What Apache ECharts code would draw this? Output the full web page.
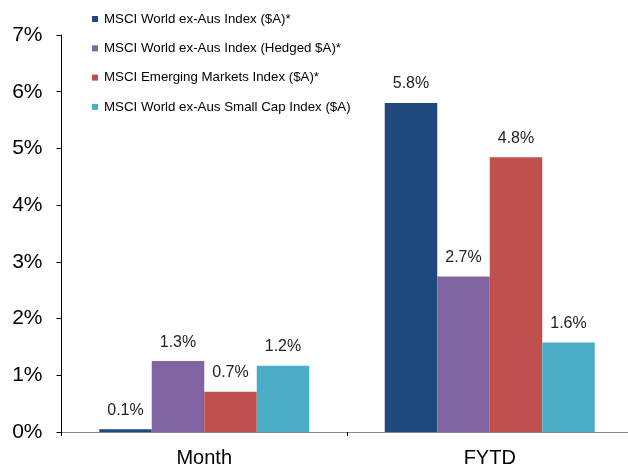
<!DOCTYPE html>
<html><head><meta charset="utf-8">
<script src="https://cdn.jsdelivr.net/npm/echarts@6/dist/echarts.min.js"></script>
<style>html,body{margin:0;padding:0;background:#fff}#c{width:628px;height:468px}</style>
</head><body><div id="c"></div>
<script>
const categories = ['Month', 'FYTD'];
const seriesNames = [
  'MSCI World ex-Aus Index ($A)*',
  'MSCI World ex-Aus Index (Hedged $A)*',
  'MSCI Emerging Markets Index ($A)*',
  'MSCI World ex-Aus Small Cap Index ($A)'
];
const worldExAus = [0.05, 5.80];
const worldHedged = [1.25, 2.74];
const emerging = [0.71, 4.845];
const smallCap = [1.17, 1.58];
const worldExAusLabels = ['0.1%', '5.8%'];
const worldHedgedLabels = ['1.3%', '2.7%'];
const emergingLabels = ['0.7%', '4.8%'];
const smallCapLabels = ['1.2%', '1.6%'];
const yTicks = [0, 1, 2, 3, 4, 5, 6, 7];
const colors = ['#1F497D', '#8064A2', '#C0504D', '#4BACC6'];

const values = [worldExAus, worldHedged, emerging, smallCap];
const labels = [worldExAusLabels, worldHedgedLabels, emergingLabels, smallCapLabels];

const chart = echarts.init(document.getElementById('c'));
chart.setOption({
  animation: false,
  color: colors,
  textStyle: { fontFamily: 'Liberation Sans, Arial, sans-serif' },
  legend: {
    orient: 'vertical', left: 87, top: 7.5,
    icon: 'rect', itemWidth: 6, itemHeight: 6, itemGap: 16.3,
    textStyle: { fontSize: 13.3, color: '#000', padding: [0, 0, 0, 1] },
    data: seriesNames
  },
  grid: { left: 61.5, width: 571, top: 35, bottom: 36, containLabel: false, outerBoundsMode: 'none' },
  xAxis: {
    type: 'category', data: categories,
    axisLine: { lineStyle: { color: '#888', width: 1 } },
    axisTick: { show: true, length: 4, lineStyle: { color: '#000' } },
    axisLabel: { fontSize: 20, color: '#000', margin: 16 }
  },
  yAxis: {
    type: 'value', min: yTicks[0], max: yTicks[yTicks.length - 1], interval: 1,
    axisLine: { show: true, lineStyle: { color: '#000' } },
    axisTick: { show: true, length: 5, lineStyle: { color: '#000' } },
    splitLine: { show: false },
    axisLabel: { fontSize: 21, color: '#000', margin: 19, formatter: v => v + '%' }
  },
  series: values.map((vals, i) => ({
    name: seriesNames[i], type: 'bar', data: vals,
    barWidth: 52.5, barGap: '0%',
    itemStyle: { color: colors[i] },
    label: {
      show: true, position: 'top', distance: 11, fontSize: 16, color: '#222',
      formatter: p => labels[i][p.dataIndex]
    }
  }))
});
</script></body></html>
